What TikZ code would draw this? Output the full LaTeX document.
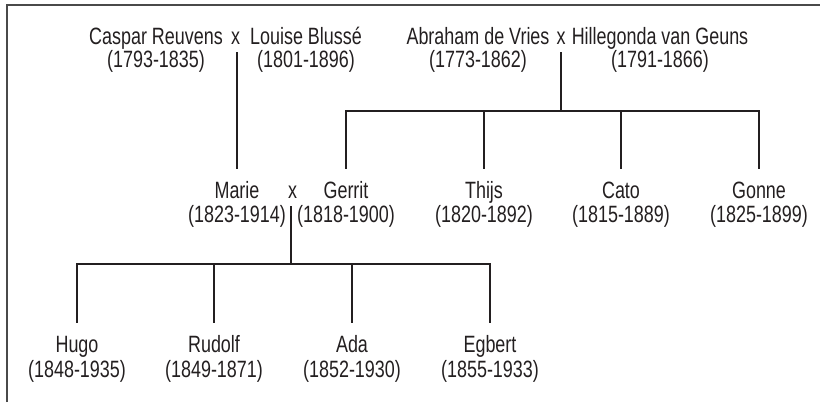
\documentclass[tikz,border=0pt]{standalone}
\usepackage{fontspec}
\setmainfont{Liberation Sans}[FakeStretch=0.76]
\usetikzlibrary{calc}
\definecolor{ink}{HTML}{231F20}
\definecolor{framec}{HTML}{4A4A4A}
\begin{document}
\begin{tikzpicture}[x=1pt,y=-1pt,
  txt/.style={anchor=base,inner sep=0pt,text=ink,font=\fontsize{23.6}{27}\selectfont},
  pname/.style={txt,text height=16pt},
  tree/.style={draw=ink,line width=1.7pt,line cap=rect},
  framel/.style={draw=framec,line width=2pt}]
\useasboundingbox (0,0) rectangle (825,402);
\draw[framel] (7,402) -- (7,4.5) -- (820,4.5);
% generation 1
\node[pname] (caspar) at (156,44.5) {Caspar Reuvens};
\node[txt] (caspard) at (156,67.5) {(1793-1835)};
\node[txt] (xm1) at (235.5,44.5) {x};
\node[pname] (louise) at (306,44.5) {Louise Blussé};
\node[txt] (louised) at (306,67.5) {(1801-1896)};
\node[pname] (abraham) at (478,44.5) {Abraham de Vries};
\node[txt] (abrahamd) at (478,67.5) {(1773-1862)};
\node[txt] (xm2) at (561,44.5) {x};
\node[pname] (hille) at (660,44.5) {Hillegonda van Geuns};
\node[txt] (hilled) at (660,67.5) {(1791-1866)};
% generation 2
\node[pname] (marie) at (237,198) {Marie};
\node[txt] (maried) at (237,222) {(1823-1914)};
\node[txt] (xm3) at (292.5,198) {x};
\node[pname] (gerrit) at (346,198) {Gerrit};
\node[txt] (gerritd) at (346,222) {(1818-1900)};
\node[pname] (thijs) at (484,198) {Thijs};
\node[txt] (thijsd) at (484,222) {(1820-1892)};
\node[pname] (cato) at (621,198) {Cato};
\node[txt] (catod) at (621,222) {(1815-1889)};
\node[pname] (gonne) at (759,198) {Gonne};
\node[txt] (gonned) at (759,222) {(1825-1899)};
% generation 3
\node[pname] (hugo) at (77,352.5) {Hugo};
\node[txt] (hugod) at (77,377) {(1848-1935)};
\node[pname] (rudolf) at (214,352.5) {Rudolf};
\node[txt] (rudolfd) at (214,377) {(1849-1871)};
\node[pname] (ada) at (352,352.5) {Ada};
\node[txt] (adad) at (352,377) {(1852-1930)};
\node[pname] (egbert) at (490,352.5) {Egbert};
\node[txt] (egbertd) at (490,377) {(1855-1933)};
% connectors
\draw[tree] ($(marie.base |- xm1.base)+(0,8.5)$) -- ($(marie.north)+(0,-14)$);
\coordinate (b2) at ($(xm2.base)+(0,66.5)$);
\draw[tree] ($(xm2.base)+(0,8.5)$) -- (b2);
\draw[tree] ($(gerrit.north)+(0,-14)$) |- (b2) -| ($(gonne.north)+(0,-14)$);
\draw[tree] ($(thijs.north)+(0,-14)$) -- (thijs.north |- b2);
\draw[tree] ($(cato.north)+(0,-14)$) -- (cato.north |- b2);
\coordinate (b3) at ($(291,0 |- xm3.base)+(0,66)$);
\draw[tree] ($(291,0 |- xm3.base)+(0,9)$) -- (b3);
\draw[tree] ($(hugo.north)+(0,-14)$) |- (b3) -| ($(egbert.north)+(0,-14)$);
\draw[tree] ($(rudolf.north)+(0,-14)$) -- (rudolf.north |- b3);
\draw[tree] ($(ada.north)+(0,-14)$) -- (ada.north |- b3);
\end{tikzpicture}
\end{document}
